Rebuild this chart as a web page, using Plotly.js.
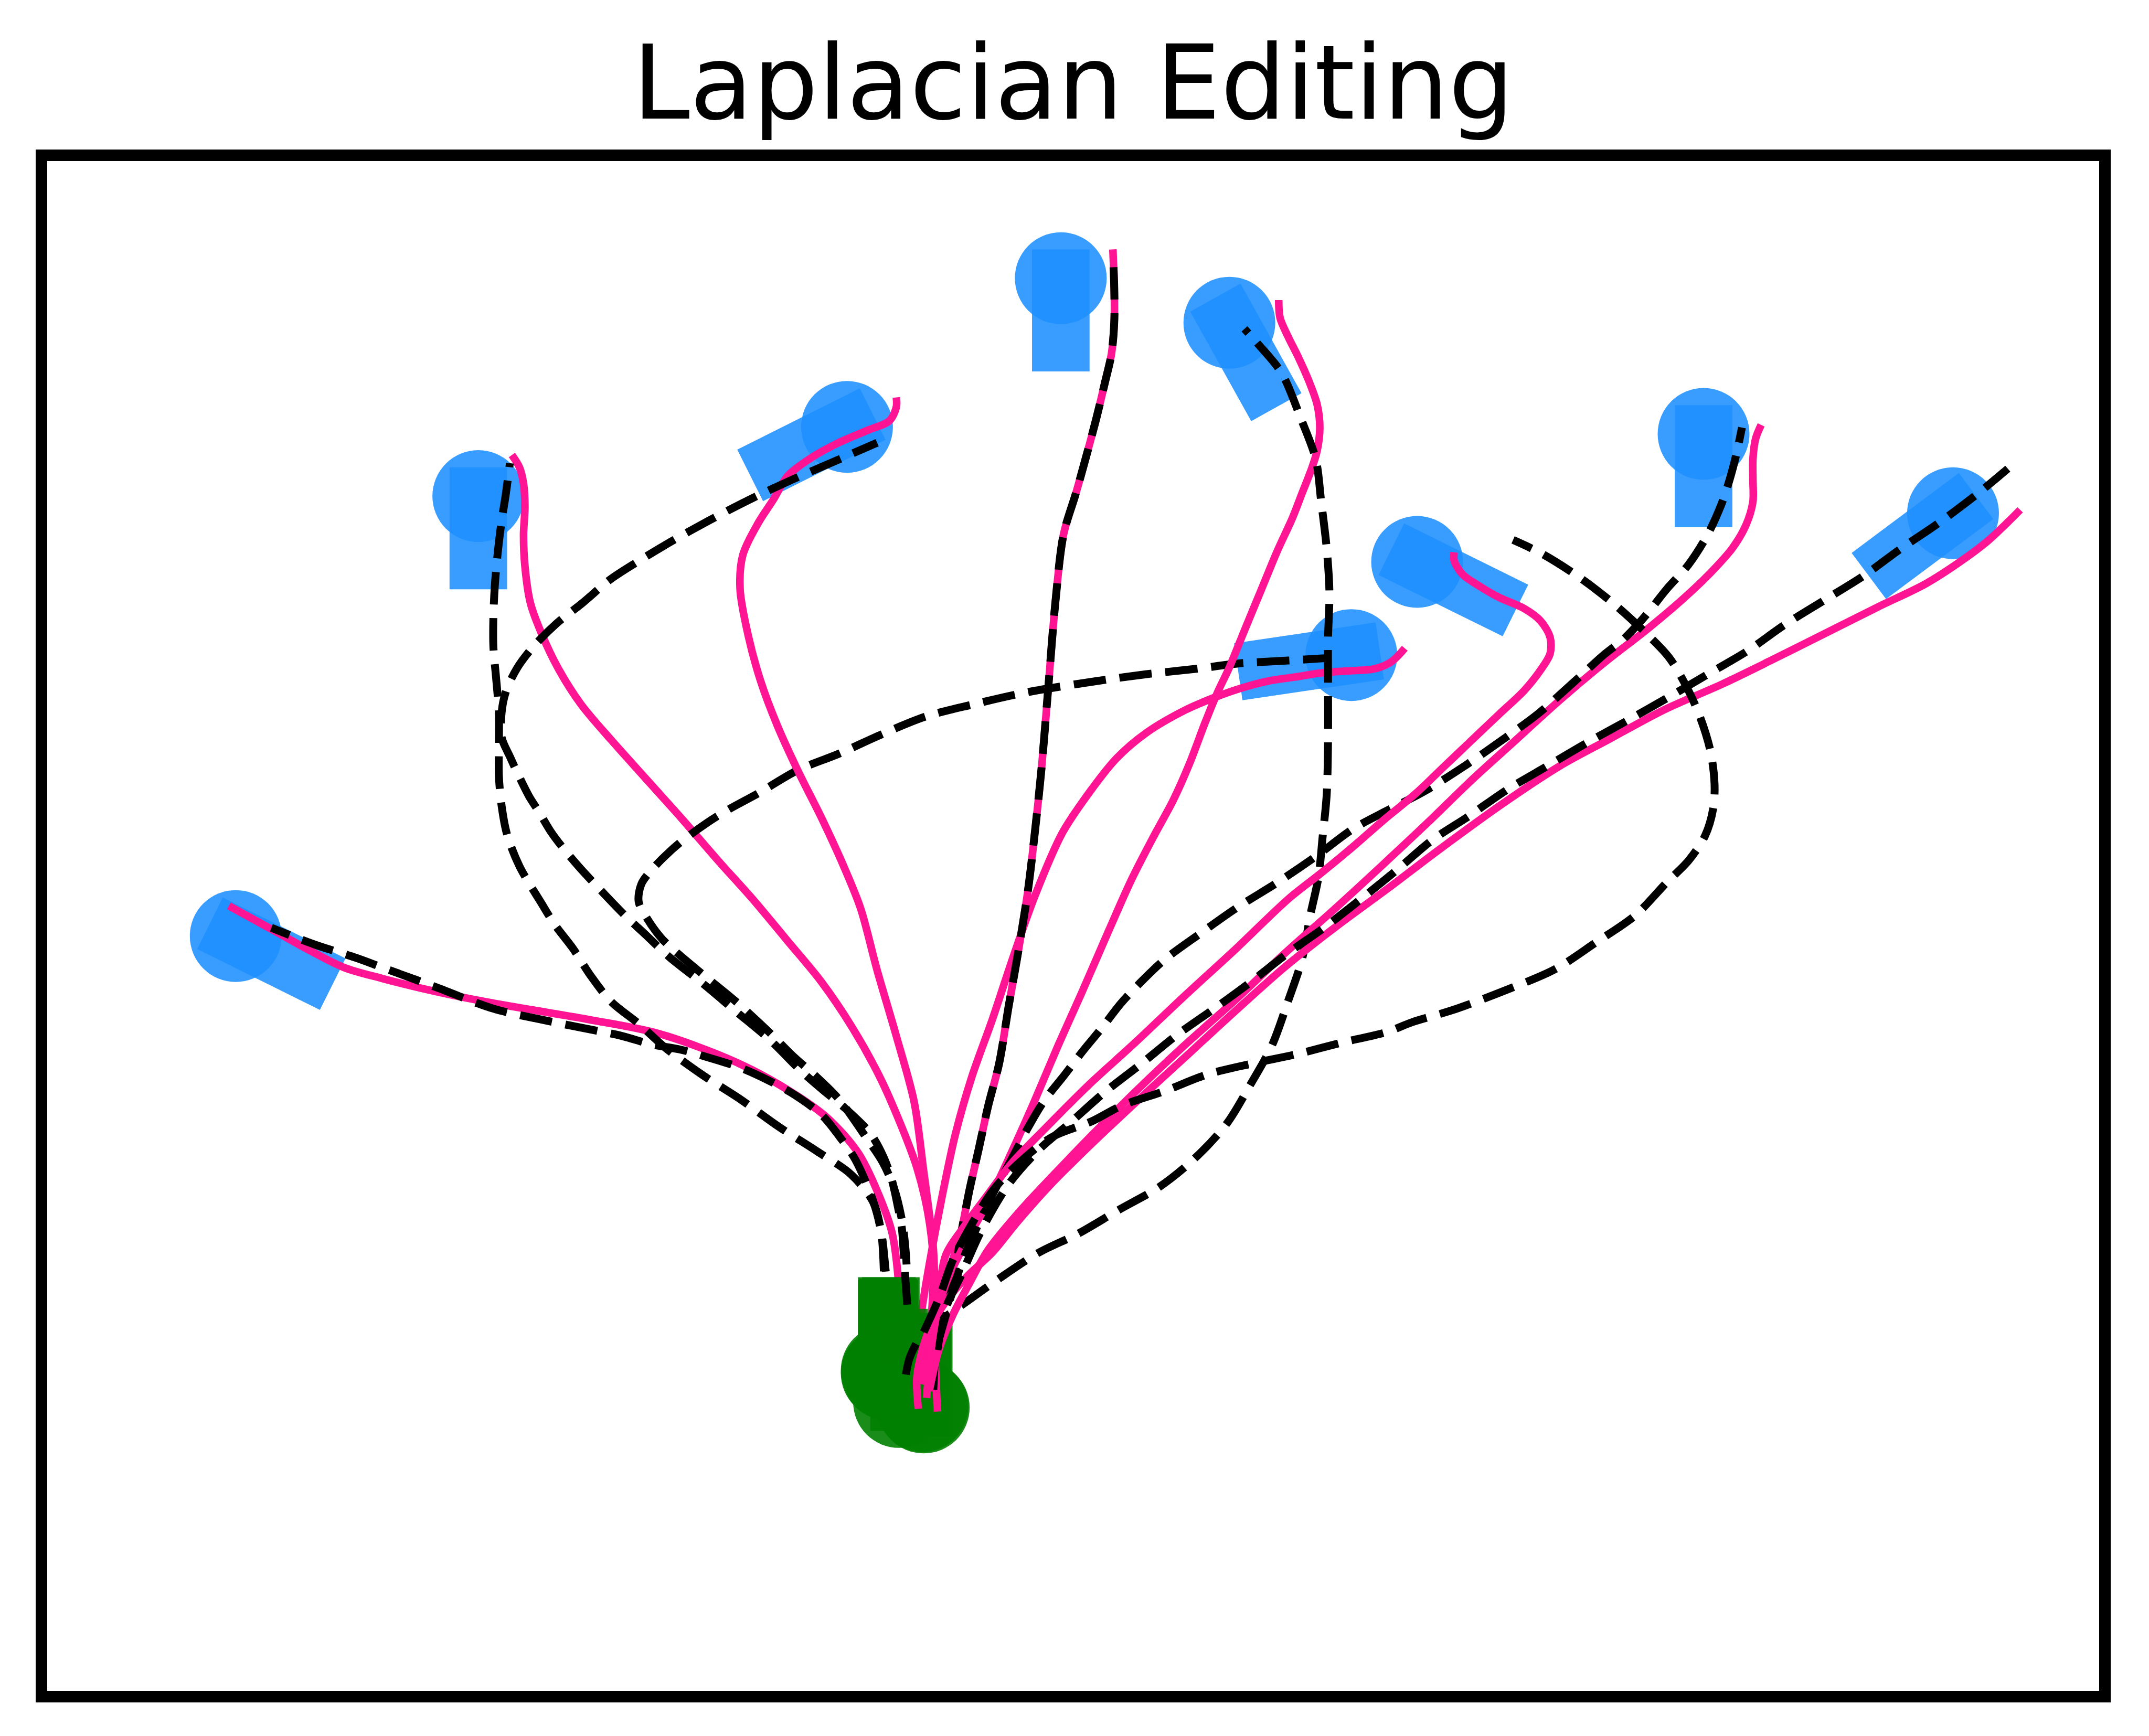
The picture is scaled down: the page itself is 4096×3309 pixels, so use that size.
<!DOCTYPE html>
<html>
<head>
<meta charset="utf-8">
<script src="https://cdn.plot.ly/plotly-3.0.1.min.js"></script>
<style>html,body{margin:0;padding:0;background:#fff;}#chart{width:4096px;height:3309px;}</style>
</head>
<body>
<div id="chart"></div>
<script>
// ---------------- DATA (plot units, y grows downward) ----------------
const robotNames = ['a','b','c','d','e','f','g','h','i'];

const goalX       = [172, 349, 618, 774, 897, 1243, 1425, 1034, 986];
const goalY       = [683, 362, 311.5, 203, 235.5, 316.6, 374.5, 410, 478];
const goalHeading = [26.4, 90, 153.4, 90, 60.9, 90, 143.3, 26.3, 171.6];
const goalLength  = [100, 89, 100, 89, 91.5, 89, 97.6, 101, 104.4];

const startX       = [648, 647, 674, 649, 650, 648, 673, 656, 647];
const startY       = [1001, 1000, 1027, 1002, 1000, 1003, 1026, 1023, 1002];
const startHeading = [-90, -90, -90, -90, -90, -90, -90, -90, -90];
const startLength  = [89, 89, 89, 89, 89, 89, 89, 89, 89];

// original paths (dashed) and edited paths (solid), start -> goal
const origA = [[652,995],[649,960],[646,925],[643,899],[637,876],[624,846],[613,830],[600,814],[580,799],[560,788],[540,779],[518,772],[497,766],[475,762],[454,756],[430,751],[400,745],[360,736],[320,721],[279,706],[260,699],[229,689],[198,677]];
const editA = [[658,990],[656,940],[651,900],[640,869],[626,841],[604,816],[576,796],[537,775],[480,754],[430,744],[395,738],[360,732],[320,724],[279,714],[251,706],[225,693],[198,678],[167,661]];

const origB = [[647,995],[645,930],[643,900],[637,877],[621,857],[596,840],[568,822],[540,802],[512,784],[486,765],[466,747],[446,731],[431,712],[418,692],[405,675],[395,659],[379,632],[370,609],[366,588],[364,566],[364,545],[364,520],[362,495],[360,472],[360,450],[361,428],[363,405],[366,380],[369,361],[372,338]];
const editB = [[676,1000],[680,955],[681,920],[677,885],[669,852],[657,820],[642,786],[622,750],[599,716],[575,687],[550,657],[524,628],[498,598],[472,569],[446,540],[424,514],[408,489],[395,462],[387,440],[383,413],[382,390],[383,370],[382,353],[379,341],[373.5,332]];

const origC = [[662,952],[660,925],[658,896],[655,880],[651,862],[645,845],[635,827],[617,809],[600,795],[584,781],[562,759],[537,738],[512,717],[488,698],[471,682],[455,667],[433,644],[422,632],[411,619],[402,607],[393,592],[386,581],[378,565],[372,552],[366,538],[366,520],[369,505],[377,488],[389,472],[406,455],[425,440],[445,423],[465,410],[490,395],[517,380],[546,365],[578,350],[608,337],[640,323]];
const editC = [[684,1030],[682,980],[682,940],[681,911],[678,885],[674,855],[667,804],[654,756],[640,708],[628,663],[616,633],[600,598],[582,562],[567,529],[555,497],[546,464],[540,430],[542,405],[553,382],[564,365],[575,347],[592,334],[612,323],[633,314],[649,307],[654,297],[654,290]];

const origD = [[681,1014],[683,985],[688,960],[695,937],[701,902],[707,870],[714,839],[721,807],[729,776],[736,734],[742,700],[750,650],[755,608],[760,560],[765,500],[770,440],[776,390],[785,360],[792,335],[800,305],[806,280],[811,258],[813,235],[813,210],[812,185]];
const editD = [[675,1000],[680,975],[688,945],[695,920],[701,900],[707,870],[714,839],[721,807],[729,776],[736,734],[742,700],[750,650],[755,608],[760,560],[765,500],[770,440],[776,390],[785,360],[792,335],[800,305],[806,280],[811,258],[813,235],[813,210],[812,182]];

const origE = [[661,1003],[664,990],[674,972],[688,962],[705,950],[729,933],[758,914],[787,900],[816,883],[846,866],[872,845],[895,820],[912,792],[928,763],[940,730],[950,700],[956,668],[962,640],[965,611],[968,580],[969,540],[969,500],[969,466],[970,432],[968,400],[964,366],[960,335],[949,305],[935,272],[917,250],[908,240]];
const editE = [[672,1010],[680,975],[690,937],[707,902],[721,877],[738,841],[755,803],[772,763],[789,725],[809,679],[826,641],[843,608],[856,584],[868,557],[879,528],[888,506],[897,487],[908,460],[920,431],[932,402],[943,378],[950,360],[957,342],[961,329],[963,312],[961,295],[955,278],[947.5,261],[940,246],[934,232],[933,219]];

const origF = [[684,981],[690,960],[695,942],[703,918],[713,895],[725,870],[738,846],[750,823],[762,803],[777,784],[790,767],[804,750],[818,732],[833,716],[850,700],[876,681],[903,662],[932,644],[960,625],[987,605],[1011,592],[1040,577],[1070,558],[1096,540],[1122,521],[1148,498],[1170,478],[1185,466],[1200,450],[1216,430],[1232,412],[1246,390],[1256,368],[1262,350],[1267,331],[1271,312]];
const editF = [[678,1015],[685,985],[695,960],[707,937],[721,912],[743,885],[770,856],[797,828],[828,797],[864,763],[901,730],[937,696],[973,664],[1010,630],[1042,600],[1074,569],[1106,540],[1138,511],[1170,484],[1202,459],[1228,437],[1248,418],[1264,400],[1274,383],[1279,366],[1279,350],[1279,335],[1281,320],[1285,310]];

const origG = [[684,985],[690,955],[702,929],[716,898],[736,864],[758,839],[780,820],[806,797],[833,776],[859,755],[886,736],[912,717],[939,696],[966,677],[993,656],[1019,635],[1045,613],[1071,596],[1100,576],[1129,559],[1158,542],[1187,526],[1217,509],[1246,492],[1275,475],[1302,456],[1331,438],[1360,420],[1386,401],[1414,382],[1442,361],[1465,342]];
const editG = [[670,1028],[669,1005],[673,985],[679,968],[690,950],[705,932],[724,914],[742,892],[765,866],[794,837],[828,805],[864,772],[901,738],[937,706],[975,676],[1013,648],[1050,620],[1097,586],[1138,559],[1173,540],[1214,518],[1257,499],[1292,482],[1330,463],[1370,443],[1405,426],[1430,410],[1450,395],[1465,381],[1474,372]];

const origH = [[674,972],[686,945],[695,920],[708,895],[725,868],[743,849],[767,830],[797,818],[818,807],[850,796],[881,784],[914,776],[947,769],[978,761],[1012,753],[1030,746],[1060,737],[1100,722],[1135,707],[1164,688],[1193,668],[1216,644],[1232,628],[1244,610],[1250,590],[1251,572],[1248,548],[1240,522],[1230,500],[1218,480],[1202,463],[1178,441],[1152,421],[1125,404],[1104,394]];
const editH = [[676,1020],[680,980],[684,955],[690,916],[702,897],[719,874],[738,849],[762,824],[794,792],[828,761],[864,727],[900,694],[940,656],[964,637],[987,618],[1010,598],[1033,579],[1054,559],[1074,540],[1094,521],[1112,504],[1124,489],[1131,477],[1131,465],[1124,453],[1112,444],[1094,436],[1080,428],[1067,419],[1061,409],[1061,403]];

const origI = [[660,990],[662,950],[661,915],[658,890],[652,866],[644,848],[632,830],[612,802],[596,786],[578,770],[560,752],[536,730],[514,712],[496,697],[483,685],[472,670],[466,658],[468,645],[478,632],[496,615],[515,601],[531,591],[553,579],[582,562],[612,550],[643,536],[675,523],[710,514],[750,505],[800,497],[836,492],[873,488],[905,484],[940,482],[971,480]];
const editI = [[668,1000],[672,960],[678,923],[688,870],[697,828],[709,786],[724,744],[738,702],[755,654],[775,608],[795,578],[815,553],[836,535],[865,518],[886,509],[906,502],[925,497],[945,494],[964,491],[983,489.6],[1003,488],[1015,483],[1025,473]];

const origPaths = {a:origA,b:origB,c:origC,d:origD,e:origE,f:origF,g:origG,h:origH,i:origI};
const editPaths = {a:editA,b:editB,c:editC,d:editD,e:editE,f:editF,g:editG,h:editH,i:editI};

// robots whose paths were drawn before the start poses
const drawnUnderStarts = ['a','b','i'];

const titleText = 'Laplacian Editing';

// ---------------- STYLE / LAYOUT ----------------
const W = 4096, H = 3309;
const K = W / 1568;                 // pixels per plot unit
const M = {l: 79, r: 84, t: 296, b: 75};
const xRange = [M.l / K, (W - M.r) / K];
const yRange = [(H - M.b) / K, M.t / K];

const BLUE = 'rgba(30,144,255,0.88)';
const GREEN = 'rgba(0,128,0,0.9)';
const PINK = '#FF1493';
const BODY_HALF = 21;               // half body width, plot units
const WHEEL_D = 67;                 // circle diameter, plot units

function bodyPolygon(cx, cy, deg, len) {
  const t = deg * Math.PI / 180;
  const ux = Math.cos(t), uy = Math.sin(t);
  const nx = -uy, ny = ux;
  const sx = cx - BODY_HALF * ux, sy = cy - BODY_HALF * uy;
  const ex = cx + (len - BODY_HALF) * ux, ey = cy + (len - BODY_HALF) * uy;
  return {
    x: [sx + BODY_HALF*nx, ex + BODY_HALF*nx, ex - BODY_HALF*nx, sx - BODY_HALF*nx, sx + BODY_HALF*nx],
    y: [sy + BODY_HALF*ny, ey + BODY_HALF*ny, ey - BODY_HALF*ny, sy - BODY_HALF*ny, sy + BODY_HALF*ny]
  };
}

function bodyTrace(p, color) {
  return {type:'scatter', mode:'lines', x:p.x, y:p.y, fill:'toself', fillcolor:color,
          line:{width:0, color:'rgba(0,0,0,0)'}, hoverinfo:'skip', showlegend:false};
}
function circleTrace(xs, ys, color) {
  return {type:'scatter', mode:'markers', x:xs, y:ys,
          marker:{size: WHEEL_D*K, color:color, line:{width:0}}, hoverinfo:'skip', showlegend:false};
}
function pathTrace(pts, dashed) {
  return {type:'scatter', mode:'lines', x:pts.map(p=>p[0]), y:pts.map(p=>p[1]),
          line: dashed ? {color:'#000000', width:15, dash:'62px,26px', shape:'spline', smoothing:0.9}
                       : {color:PINK, width:14.5, shape:'spline', smoothing:0.9},
          hoverinfo:'skip', showlegend:false};
}
function pathPair(name) {
  return [pathTrace(editPaths[name], false), pathTrace(origPaths[name], true)];
}

const traces = [];
// goal poses
robotNames.forEach((n, k) => traces.push(bodyTrace(bodyPolygon(goalX[k], goalY[k], goalHeading[k], goalLength[k]), BLUE)));
traces.push(circleTrace(goalX, goalY, BLUE));
// paths beneath the start poses
drawnUnderStarts.forEach(n => traces.push(...pathPair(n)));
// start poses
robotNames.forEach((n, k) => traces.push(bodyTrace(bodyPolygon(startX[k], startY[k], startHeading[k], startLength[k]), GREEN)));
traces.push(circleTrace(startX, startY, GREEN));
// remaining paths
robotNames.filter(n => !drawnUnderStarts.includes(n)).forEach(n => traces.push(...pathPair(n)));

const axisBase = {showgrid:false, zeroline:false, showticklabels:false, ticks:'', showline:false, fixedrange:true};

const layout = {
  width: W, height: H,
  margin: M,
  paper_bgcolor:'#ffffff', plot_bgcolor:'#ffffff',
  showlegend:false,
  hovermode:false,
  title: {text: titleText, x:0.5, xanchor:'center', xref:'paper',
          y: 1 - 157/H, yref:'container', yanchor:'middle',
          font:{family:'DejaVu Sans, sans-serif', size:196, color:'#000000'}},
  xaxis: Object.assign({range:xRange}, axisBase),
  yaxis: Object.assign({range:yRange}, axisBase),
  shapes: [{type:'rect', xref:'paper', yref:'paper', x0:0, x1:1, y0:0, y1:1,
            line:{color:'#000000', width:22}, fillcolor:'rgba(0,0,0,0)', layer:'above'}]
};

Plotly.newPlot('chart', traces, layout, {staticPlot:true, displayModeBar:false});
</script>
</body>
</html>
